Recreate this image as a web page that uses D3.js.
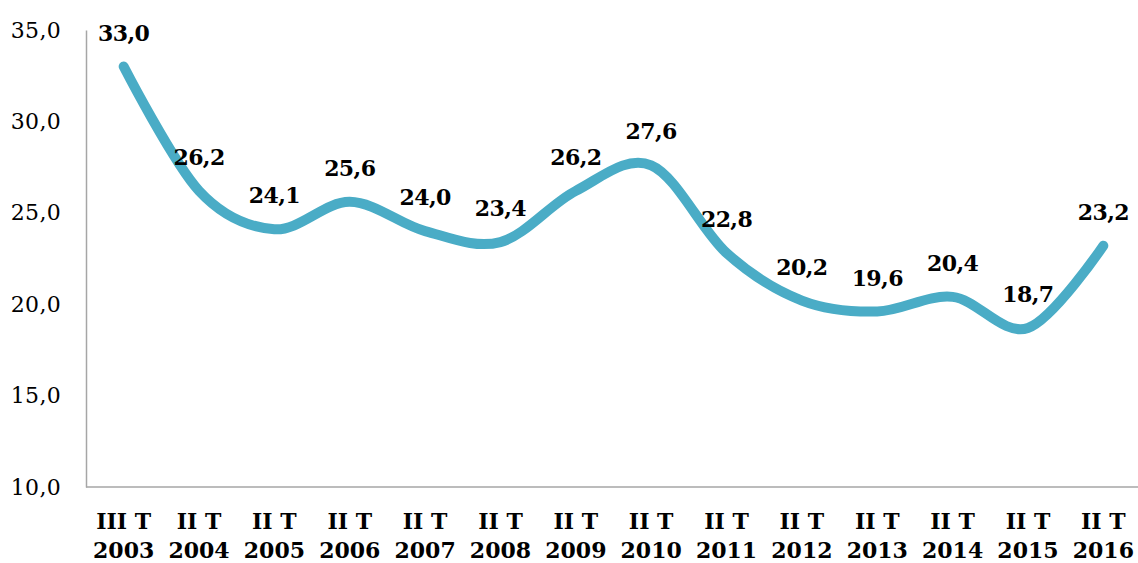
<!DOCTYPE html>
<html>
<head>
<meta charset="utf-8">
<script src="https://cdn.jsdelivr.net/npm/d3@7"></script>
<style>
  body { margin: 0; background: #fff; }
  svg { display: block; }
</style>
</head>
<body>
<svg id="chart" width="1138" height="563"></svg>
<script>
// data
const quarters = ['III T', 'II T', 'II T', 'II T', 'II T', 'II T', 'II T', 'II T', 'II T', 'II T', 'II T', 'II T', 'II T', 'II T'];
const years = ['2003', '2004', '2005', '2006', '2007', '2008', '2009', '2010', '2011', '2012', '2013', '2014', '2015', '2016'];
const values = [33.0, 26.2, 24.1, 25.6, 24.0, 23.4, 26.2, 27.6, 22.8, 20.2, 19.6, 20.4, 18.7, 23.2];
const yTicks = [10, 15, 20, 25, 30, 35];

const svg = d3.select('#chart');
const margin = {top: 30, right: -3, bottom: 76, left: 86};
const width = 1138 - margin.left - margin.right;
const height = 563 - margin.top - margin.bottom;

const fmt = v => d3.format('.1f')(v).replace('.', ',');

const g = svg.append('g')
    .attr('transform', 'translate(' + margin.left + ',' + margin.top + ')');

const xScale = d3.scaleBand().domain(d3.range(values.length)).range([0, width]);
const yScale = d3.scaleLinear().domain([10, 35]).range([height, 0]);
const xc = i => xScale(i) + xScale.bandwidth() / 2;

// y axis
const yAxis = g.append('g')
    .call(d3.axisLeft(yScale).tickValues(yTicks).tickSize(0).tickPadding(25).tickFormat(fmt));
yAxis.select('.domain').attr('stroke', '#a6a6a6').attr('stroke-width', 1.5);
yAxis.selectAll('text')
    .attr('font-family', 'DejaVu Serif')
    .attr('font-size', '22px')
    .attr('letter-spacing', '0.3px')
    .attr('fill', '#000');

// x axis line
g.append('line')
    .attr('x1', 0).attr('x2', width)
    .attr('y1', height).attr('y2', height)
    .attr('stroke', '#a6a6a6').attr('stroke-width', 1.5);

// category labels, two lines each
const cats = g.append('g').selectAll('text')
    .data(values)
    .join('text')
    .attr('x', (d, i) => xc(i))
    .attr('text-anchor', 'middle')
    .attr('font-family', 'DejaVu Serif')
    .attr('font-weight', 'bold')
    .attr('font-size', '22px')
    .attr('fill', '#000');
cats.append('tspan')
    .attr('x', (d, i) => xc(i))
    .attr('y', height + 42)
    .text((d, i) => quarters[i]);
cats.append('tspan')
    .attr('x', (d, i) => xc(i))
    .attr('y', height + 71)
    .text((d, i) => years[i]);

// smoothed line
const line = d3.line()
    .x((d, i) => xc(i))
    .y(d => yScale(d))
    .curve(d3.curveCatmullRom.alpha(0));

g.append('path')
    .datum(values)
    .attr('d', line)
    .attr('fill', 'none')
    .attr('stroke', '#4aacc6')
    .attr('stroke-width', 10)
    .attr('stroke-linecap', 'round')
    .attr('stroke-linejoin', 'round');

// value labels
g.append('g').selectAll('text')
    .data(values)
    .join('text')
    .attr('x', (d, i) => xc(i))
    .attr('y', d => yScale(d) - 26)
    .attr('text-anchor', 'middle')
    .attr('font-family', 'DejaVu Serif')
    .attr('font-weight', 'bold')
    .attr('font-size', '22px')
    .attr('letter-spacing', '-0.6px')
    .attr('fill', '#000')
    .text(d => fmt(d));
</script>
</body>
</html>
